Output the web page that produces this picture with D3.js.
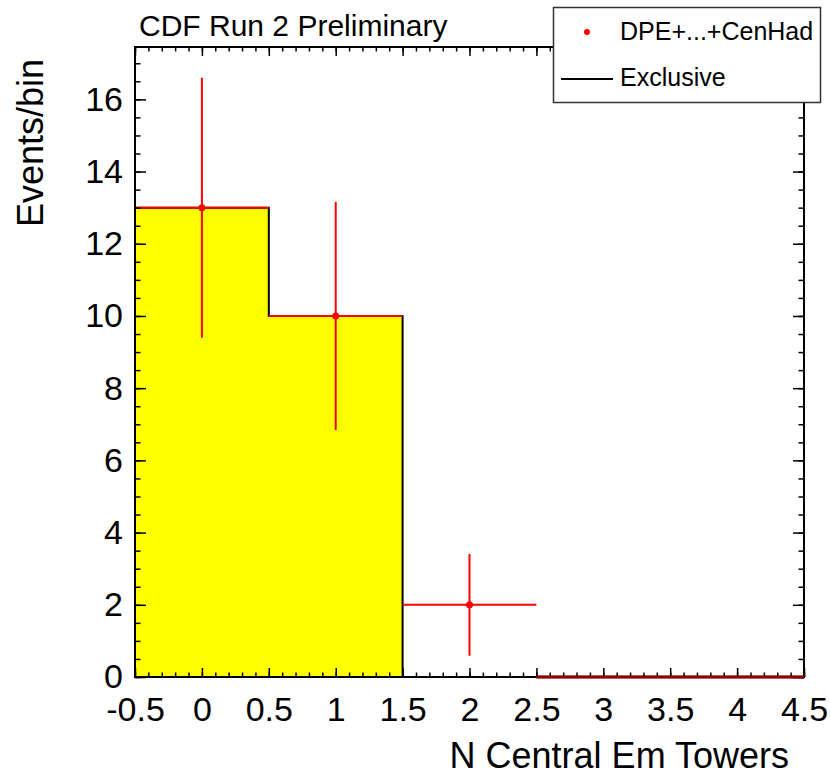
<!DOCTYPE html>
<html>
<head>
<meta charset="utf-8">
<script src="https://cdn.jsdelivr.net/npm/d3@7"></script>
<style>
  body { margin: 0; background: #ffffff; }
  text { font-family: "Liberation Sans", Arial, Helvetica, sans-serif; }
</style>
</head>
<body>
<div id="chart"></div>
<script>
// bin centres of the histogram
let binCenters = [0, 1, 2, 3, 4];
// data points (DPE+...+CenHad) and their errors
let dataValues = [13, 10, 2, 0, 0];
let dataErrors = [3.6, 3.16, 1.41, 0, 0];
// exclusive histogram (yellow)
let exclusiveValues = [13, 10, 0, 0, 0];
// tick labels
let xTickValues = [-0.5, 0, 0.5, 1, 1.5, 2, 2.5, 3, 3.5, 4, 4.5];
let yTickValues = [0, 2, 4, 6, 8, 10, 12, 14, 16];
let legendLabels = ["DPE+...+CenHad", "Exclusive"];

// set the dimensions and margins of the frame
var margin = { top: 47, right: 26, bottom: 96, left: 135 },
    width = 830 - margin.left - margin.right,
    height = 773 - margin.top - margin.bottom;

let x = d3.scaleLinear().range([0, width]).domain([-0.5, 4.5]);
let y = d3.scaleLinear().range([height, 0]).domain([0, 17.45]);

let svg = d3.select("#chart").append("svg")
    .attr("width", 830)
    .attr("height", 773);

let g = svg.append("g")
    .attr("transform", "translate(" + margin.left + "," + margin.top + ")");

// yellow exclusive histogram as a step area
let bins = binCenters.map(function(c, i) {
    return { lo: c - 0.5, hi: c + 0.5, v: exclusiveValues[i] };
});
let stepPts = [];
bins.forEach(function(b) {
    stepPts.push([b.lo, b.v]);
    stepPts.push([b.hi, b.v]);
});

g.append("path")
    .datum(stepPts)
    .attr("fill", "#ffff00")
    .attr("stroke", "none")
    .attr("d", d3.area()
        .x(function(d) { return x(d[0]); })
        .y0(y(0))
        .y1(function(d) { return y(d[1]); }));

// black outline of the histogram
g.append("path")
    .datum([[-0.5, 0]].concat(stepPts))
    .attr("fill", "none")
    .attr("stroke", "#000")
    .attr("stroke-width", 2)
    .attr("d", d3.line()
        .x(function(d) { return x(d[0]); })
        .y(function(d) { return y(d[1]); }));

// red data points with error bars
let pts = binCenters.map(function(c, i) {
    return { x: c, v: dataValues[i], e: dataErrors[i] };
});

let pg = g.selectAll(".pt")
    .data(pts)
    .enter().append("g")
    .attr("class", "pt");

pg.append("line")
    .attr("x1", function(d) { return x(d.x - 0.5); })
    .attr("x2", function(d) { return x(d.x + 0.5); })
    .attr("y1", function(d) { return y(d.v); })
    .attr("y2", function(d) { return y(d.v); })
    .attr("stroke", function(d) { return d.v > 0 ? "#ff0000" : "#8e0000"; })
    .attr("stroke-width", function(d) { return d.v > 0 ? 2 : 3; });

pg.filter(function(d) { return d.e > 0; })
    .append("line")
    .attr("x1", function(d) { return x(d.x); })
    .attr("x2", function(d) { return x(d.x); })
    .attr("y1", function(d) { return y(d.v + d.e); })
    .attr("y2", function(d) { return y(d.v - d.e); })
    .attr("stroke", "#ff0000")
    .attr("stroke-width", 2);

pg.filter(function(d) { return d.v > 0; })
    .append("circle")
    .attr("cx", function(d) { return x(d.x); })
    .attr("cy", function(d) { return y(d.v); })
    .attr("r", 3.5)
    .attr("fill", "#ff0000");

// minor tick values
let xMinor = d3.range(-5, 46).map(function(i) { return i / 10; });
let yMinor = d3.range(0, 35).map(function(i) { return i / 2; });

function styleAxis(sel) {
    sel.select(".domain").remove();
    sel.selectAll("line").attr("stroke", "#000").attr("stroke-width", 1.5);
    sel.selectAll("text")
        .attr("fill", "#000")
        .style("font-size", "34px")
        .style("font-family", "'Liberation Sans', Arial, sans-serif");
}

// bottom axis
g.append("g").attr("transform", "translate(0," + height + ")")
    .call(d3.axisBottom(x).tickValues(xMinor).tickSize(-4.5).tickFormat(""))
    .call(styleAxis);
g.append("g").attr("transform", "translate(0," + height + ")")
    .call(d3.axisBottom(x).tickValues(xTickValues).tickSize(-9).tickPadding(20)
        .tickFormat(function(d) { return String(d); }))
    .call(styleAxis);

// top axis
g.append("g")
    .call(d3.axisTop(x).tickValues(xMinor).tickSize(-4.5).tickFormat(""))
    .call(styleAxis);
g.append("g")
    .call(d3.axisTop(x).tickValues(xTickValues).tickSize(-9).tickFormat(""))
    .call(styleAxis);

// left axis
g.append("g")
    .call(d3.axisLeft(y).tickValues(yMinor).tickSize(-5.5).tickFormat(""))
    .call(styleAxis);
g.append("g")
    .call(d3.axisLeft(y).tickValues(yTickValues).tickSize(-11).tickPadding(12)
        .tickFormat(d3.format("d")))
    .call(styleAxis);

// right axis
g.append("g").attr("transform", "translate(" + width + ",0)")
    .call(d3.axisRight(y).tickValues(yMinor).tickSize(-5.5).tickFormat(""))
    .call(styleAxis);
g.append("g").attr("transform", "translate(" + width + ",0)")
    .call(d3.axisRight(y).tickValues(yTickValues).tickSize(-11).tickFormat(""))
    .call(styleAxis);

// frame
g.append("rect")
    .attr("width", width)
    .attr("height", height)
    .attr("fill", "none")
    .attr("stroke", "#000")
    .attr("stroke-width", 2);

// zero bins drawn over the frame
g.append("line")
    .attr("x1", x(2.5)).attr("x2", x(4.5))
    .attr("y1", y(0)).attr("y2", y(0))
    .attr("stroke", "#8e0000")
    .attr("stroke-width", 2.5);

// titles
svg.append("text")
    .attr("x", 139)
    .attr("y", 36)
    .style("font-size", "30px")
    .text("CDF Run 2 Preliminary");

svg.append("text")
    .attr("x", 789)
    .attr("y", 768)
    .attr("text-anchor", "end")
    .style("font-size", "36px")
    .text("N Central Em Towers");

svg.append("text")
    .attr("transform", "translate(43,227) rotate(-90)")
    .attr("text-anchor", "start")
    .style("font-size", "36px")
    .text("Events/bin");

// legend
let legend = svg.append("g");
legend.append("rect")
    .attr("x", 553.5)
    .attr("y", 7.5)
    .attr("width", 267)
    .attr("height", 95)
    .attr("fill", "#fff")
    .attr("stroke", "#333")
    .attr("stroke-width", 1.5);

legend.append("circle")
    .attr("cx", 587).attr("cy", 32).attr("r", 3)
    .attr("fill", "#ff0000");
legend.append("line")
    .attr("x1", 561).attr("x2", 613)
    .attr("y1", 79).attr("y2", 79)
    .attr("stroke", "#000").attr("stroke-width", 2);

legend.selectAll(".lt")
    .data(legendLabels)
    .enter().append("text")
    .attr("class", "lt")
    .attr("x", 620)
    .attr("y", function(d, i) { return 40 + i * 46; })
    .style("font-size", "25px")
    .text(function(d) { return d; });
</script>
</body>
</html>
